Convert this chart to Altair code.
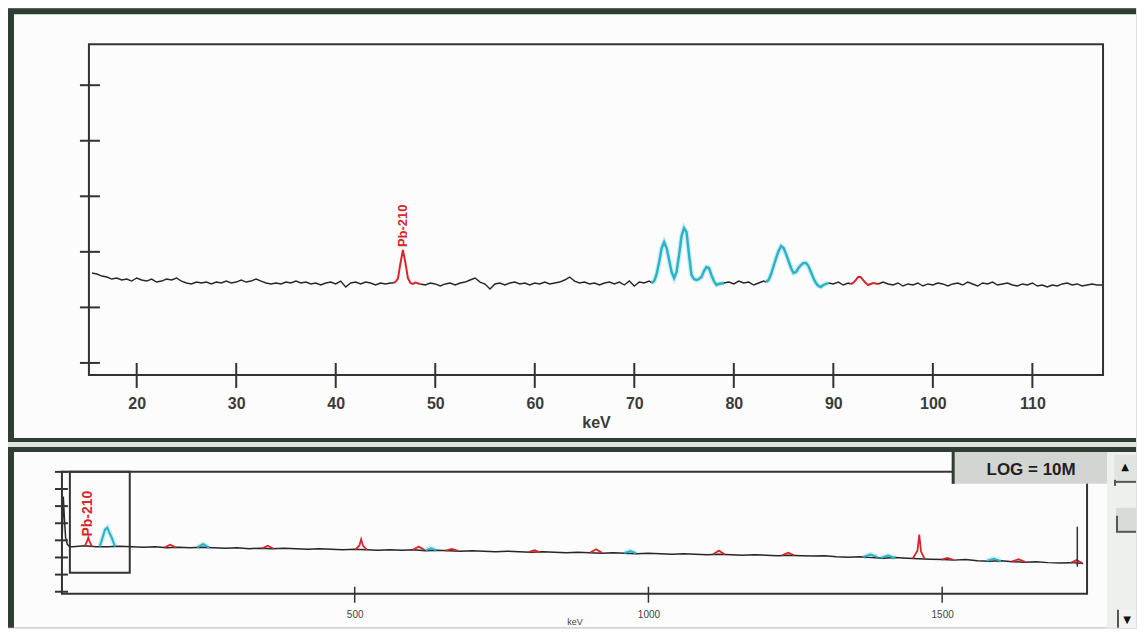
import altair as alt
import pandas as pd

# ---------------- colours ----------------
RED = "#d8262c"
CYAN = "#28b3c7"
BLACK = "#262626"
FRAME = "#333333"
BORDER = "#2f3d34"
PANEL = "#fbfcfb"
GAP = "#dfe4df"
FONT = "Liberation Sans"

# ================= TOP PANEL : 15 - 117 keV =================
top_kev_domain = [15.2, 117.1]
top_count_domain = [6.08, 5.46e6]
top_x_ticks = [20, 30, 40, 50, 60, 70, 80, 90, 100, 110]
top_y_ticks = [10, 100, 1000, 10000, 100000, 1000000]

# spectrum segments: kind bg = background, id = identified ROI, xr = X-ray ROI
top_seg_names = ["bg_a", "pb210", "bg_b", "xray1", "bg_c", "xray2", "bg_d", "roi92", "bg_e"]
top_seg_kind = ["bg", "id", "bg", "xr", "bg", "xr", "bg", "id", "bg"]
top_seg_start = [15.5, 45.75, 48.5, 71.75, 79.0, 83.25, 89.5, 91.75, 94.5]
top_seg_step = [0.5, 0.25, 0.5, 0.25, 0.5, 0.25, 0.5, 0.25, 0.5]

bg_a = [416, 399, 367, 352, 324, 338, 311, 324, 298, 338,
        311, 298, 324, 286, 298, 324, 311, 338, 298, 275,
        264, 286, 275, 286, 264, 286, 275, 298, 275, 286,
        311, 286, 298, 324, 298, 275, 264, 275, 264, 286,
        275, 298, 275, 286, 264, 275, 253, 275, 286, 264,
        298, 233, 275, 286, 264, 286, 275, 253, 275, 264,
        275]
pb210 = [275, 286, 330, 620, 1080, 640, 340, 275, 264, 280]
bg_b = [264, 253, 275, 264, 243, 264, 275, 253, 275, 286,
        311, 338, 286, 264, 214, 264, 275, 253, 275, 286,
        264, 275, 253, 275, 264, 286, 264, 275, 286, 311,
        352, 298, 275, 286, 264, 275, 253, 275, 286, 264,
        286, 253, 298, 243, 286, 275, 298]
xray1 = [275, 298, 399, 656, 1170, 1500, 1170, 713, 434, 338,
         434, 875, 1920, 2680, 2270, 875, 383, 324, 311, 324,
         352, 452, 533, 512, 383, 298, 253, 264]
bg_c = [275, 286, 264, 298, 275, 286, 253, 275, 298]
xray2 = [286, 311, 399, 556, 773, 1033, 1270, 1170, 912, 684,
         512, 416, 434, 512, 580, 630, 630, 556, 434, 338,
         275, 243, 233, 253]
bg_d = [275, 264, 286, 253, 275]
roi92 = [264, 275, 311, 352, 352, 311, 275, 253, 264, 275]
bg_e = [264, 286, 264, 253, 275, 243, 264, 253, 275, 243,
        264, 253, 275, 264, 243, 264, 275, 253, 286, 264,
        243, 275, 264, 286, 253, 264, 275, 253, 243, 264,
        253, 275, 243, 253, 233, 253, 243, 264, 275, 253,
        264, 243, 253, 264, 253, 253]
top_seg_values = [bg_a, pb210, bg_b, xray1, bg_c, xray2, bg_d, roi92, bg_e]

top_labels = ["Pb-210"]
top_label_kev = [46.8]
top_label_counts = [1220]

# ================= BOTTOM PANEL : full spectrum =================
bot_kev_domain = [1.7, 1746.6]
bot_count_domain = [0.76, 1e7]
bot_x_ticks = [500, 1000, 1500]
bot_y_ticks = [1, 10, 100, 1000, 10000, 100000, 1000000, 10000000]

bot_low_kev = [2, 4, 6, 8, 11, 15]
bot_low_counts = [1100, 360000, 16000, 1400, 560, 428]
bot_bg_start, bot_bg_step = 20, 20
bot_bg_counts = [428, 490, 428, 428, 458, 428, 400, 428, 374, 400,
                 374, 400, 374, 350, 374, 327, 350, 327, 350, 327,
                 306, 327, 306, 286, 306, 286, 267, 286, 267, 286,
                 250, 267, 250, 234, 250, 234, 218, 234, 218, 204,
                 218, 204, 191, 204, 191, 179, 191, 179, 167, 179,
                 167, 156, 167, 156, 146, 156, 146, 137, 146, 137,
                 128, 137, 128, 120, 128, 112, 104, 112, 98, 91,
                 98, 91, 85, 80, 75, 70, 75, 65, 61, 65,
                 57, 53, 57, 50, 47, 50, 44]

bot_roi_kind = ["id", "xr", "id", "xr", "id", "id", "id", "xr", "id", "id", "id",
                "xr", "id", "id", "xr", "xr", "id", "id", "xr", "id", "id"]
bot_roi_kev = [
    [40, 44, 46.5, 49, 53],
    [66, 71, 75, 79, 83, 87, 92],
    [176, 186, 196],
    [232, 242, 252],
    [342, 352, 362],
    [501, 508, 511, 514, 521],
    [599, 609, 619],
    [621, 630, 639],
    [655, 665, 675],
    [796, 806, 816],
    [901, 911, 921],
    [959, 969, 979],
    [1110, 1120, 1130],
    [1228, 1238, 1248],
    [1366, 1378, 1390],
    [1396, 1408, 1420],
    [1450, 1458, 1461, 1464, 1470],
    [1499, 1509, 1519],
    [1576, 1588, 1600],
    [1618, 1630, 1642],
    [1719, 1729, 1739],
]
bot_roi_counts = [
    [428, 800, 1440, 800, 428],
    [428, 1500, 4200, 5500, 2500, 1300, 428],
    [374, 560, 374],
    [390, 600, 380],
    [330, 480, 320],
    [290, 500, 1150, 500, 280],
    [280, 430, 270],
    [265, 340, 258],
    [255, 320, 250],
    [205, 270, 200],
    [192, 300, 186],
    [180, 240, 176],
    [156, 250, 150],
    [137, 190, 134],
    [108, 150, 104],
    [95, 130, 92],
    [87, 250, 2150, 220, 84],
    [75, 95, 72],
    [63, 85, 61],
    [57, 78, 54],
    [48, 70, 46],
]
bot_labels = ["Pb-210"]
bot_label_kev = [46.8]
bot_label_counts = [1660]
zoom_counts = [13, 1e7]
cursor_kev = [1730]
cursor_counts = [[29, 6300]]

# ---------------- build tables ----------------
rows = []
for i, name in enumerate(top_seg_names):
    vals = top_seg_values[i]
    pts = [(top_seg_start[i] + j * top_seg_step[i], v) for j, v in enumerate(vals)]
    if i + 1 < len(top_seg_names):
        pts.append((top_seg_start[i + 1], top_seg_values[i + 1][0]))
    for e, c in pts:
        rows.append({"keV": e, "counts": c, "seg": name, "kind": top_seg_kind[i]})
top_df = pd.DataFrame(rows)

brows = []
for e, c in zip(bot_low_kev, bot_low_counts):
    brows.append({"keV": e, "counts": c, "seg": "bg", "kind": "bg"})
for j, c in enumerate(bot_bg_counts):
    brows.append({"keV": bot_bg_start + j * bot_bg_step, "counts": c, "seg": "bg", "kind": "bg"})
for i, k in enumerate(bot_roi_kind):
    for e, c in zip(bot_roi_kev[i], bot_roi_counts[i]):
        brows.append({"keV": e, "counts": c, "seg": "roi%d" % i, "kind": k})
bot_df = pd.DataFrame(brows)

one = pd.DataFrame({"a": [0]})


def box(x, x2, y, y2, fill, **kw):
    return alt.Chart(one).mark_rect(fill=fill, **kw).encode(
        x=alt.value(x), x2=alt.value(x2), y=alt.value(y), y2=alt.value(y2))


def hline(x, x2, y, color=BORDER, w=2):
    return alt.Chart(one).mark_rule(color=color, strokeWidth=w).encode(
        x=alt.value(x), x2=alt.value(x2), y=alt.value(y))


def vline(x, y, y2, color=BORDER, w=2):
    return alt.Chart(one).mark_rule(color=color, strokeWidth=w).encode(
        x=alt.value(x), y=alt.value(y), y2=alt.value(y2))


def spectrum_layers(df, xe, ye, wbg, wid, wxr):
    glow = alt.Chart(df).transform_filter(alt.datum.kind == "xr").mark_line(
        color=CYAN, strokeWidth=5, opacity=0.22).encode(x=xe, y=ye, detail="seg:N")
    bg = alt.Chart(df).transform_filter(alt.datum.kind == "bg").mark_line(
        color=BLACK, strokeWidth=wbg).encode(x=xe, y=ye, detail="seg:N")
    idl = alt.Chart(df).transform_filter(alt.datum.kind == "id").mark_line(
        color=RED, strokeWidth=wid).encode(x=xe, y=ye, detail="seg:N")
    xr = alt.Chart(df).transform_filter(alt.datum.kind == "xr").mark_line(
        color=CYAN, strokeWidth=wxr).encode(x=xe, y=ye, detail="seg:N")
    return [glow, bg, idl, xr]


# ---------------- top chart ----------------
# group origin shared with the bottom panel; the top plot box starts 27 px further right
L1 = 27
W1, H1 = 1042, 331
ax_top = alt.Axis(values=top_x_ticks, format="d", labelFont=FONT, labelFontSize=16,
                  labelFontWeight="bold", labelColor="#3a3a3a", labelPadding=34,
                  labelBaseline="alphabetic", ticks=False, tickSize=0, domain=False,
                  grid=False, title="keV", titleFont=FONT, titleFontSize=16,
                  titleFontWeight="bold", titleColor="#3a3a3a", titleY=53,
                  titleX=(L1 + W1) / 2, titleBaseline="alphabetic", zindex=1,
                  labelOverlap=False)
xt = alt.X("keV:Q", scale=alt.Scale(domain=top_kev_domain, range=[L1, W1], nice=False, zero=False),
           axis=ax_top)
yt = alt.Y("counts:Q", scale=alt.Scale(type="log", domain=top_count_domain, nice=False), axis=None)

top_label = alt.Chart(pd.DataFrame({"keV": top_label_kev, "counts": top_label_counts,
                                    "t": top_labels})).mark_text(
    angle=270, align="left", baseline="middle", font=FONT, fontSize=13,
    fontWeight="bold", color=RED).encode(x=xt, y=yt, text="t:N")

top_xtick = alt.Chart(pd.DataFrame({"keV": top_x_ticks})).mark_rule(
    color=FRAME, strokeWidth=2).encode(x=xt, y=alt.value(H1 - 12), y2=alt.value(H1 + 13))
top_ytick = alt.Chart(pd.DataFrame({"counts": top_y_ticks})).mark_rule(
    color=FRAME, strokeWidth=2).encode(y=yt, x=alt.value(L1 - 9), x2=alt.value(L1 + 11))
top_frame = box(L1, W1, 0, H1, "transparent", stroke=FRAME, strokeWidth=2)

top = alt.layer(
    box(-54, 1075, -36, 398, BORDER),
    box(-48, 1075, -30, 394, PANEL),
    *spectrum_layers(top_df, xt, yt, 1.4, 2.0, 2.4),
    top_label, top_frame, top_xtick, top_ytick,
).properties(width=W1, height=H1)

# ---------------- bottom chart ----------------
W2, H2 = 1026, 122
ax_bot = alt.Axis(values=bot_x_ticks, format="d", labelFont=FONT, labelFontSize=10,
                  labelColor="#444444", labelPadding=24, labelBaseline="alphabetic",
                  ticks=False, tickSize=0, domain=False, grid=False, title="keV",
                  titleFont=FONT, titleFontSize=9, titleFontWeight="normal",
                  titleColor="#444444", titleY=31, titleBaseline="alphabetic",
                  zindex=1, labelOverlap=False)
xb = alt.X("keV:Q", scale=alt.Scale(domain=bot_kev_domain, nice=False, zero=False), axis=ax_bot)
yb = alt.Y("counts:Q", scale=alt.Scale(type="log", domain=bot_count_domain, nice=False), axis=None)

bot_label = alt.Chart(pd.DataFrame({"keV": bot_label_kev, "counts": bot_label_counts,
                                    "t": bot_labels})).mark_text(
    angle=270, align="left", baseline="middle", font=FONT, fontSize=14,
    fontWeight="bold", color=RED).encode(x=xb, y=yb, text="t:N")

zoom_box = alt.Chart(pd.DataFrame({"keV": [top_kev_domain[0]], "keV2": [top_kev_domain[1]],
                                   "counts": [zoom_counts[0]], "counts2": [zoom_counts[1]]})).mark_rect(
    fill="transparent", stroke=FRAME, strokeWidth=2).encode(
    x=xb, x2="keV2:Q", y=yb, y2="counts2:Q")

cursor = alt.Chart(pd.DataFrame({"keV": cursor_kev, "counts": [cursor_counts[0][0]],
                                 "counts2": [cursor_counts[0][1]]})).mark_rule(
    color=FRAME, strokeWidth=1.5).encode(x=xb, y=yb, y2="counts2:Q")

bot_xtick = alt.Chart(pd.DataFrame({"keV": bot_x_ticks})).mark_rule(
    color=FRAME, strokeWidth=1.5).encode(x=xb, y=alt.value(H2 - 7), y2=alt.value(H2 + 9))
bot_ytick = alt.Chart(pd.DataFrame({"counts": bot_y_ticks})).mark_rule(
    color=FRAME, strokeWidth=2).encode(y=yb, x=alt.value(-7), x2=alt.value(6))
bot_frame = box(0, W2, 0, H2, "transparent", stroke=FRAME, strokeWidth=2)

log_text = alt.Chart(one).mark_text(text="LOG = 10M", font=FONT, fontSize=17,
                                    fontWeight="bold", color="#222222").encode(
    x=alt.value(970), y=alt.value(-2))
arrow_up = alt.Chart(one).mark_text(text="\u25b2", font="DejaVu Sans", fontSize=10,
                                    color="#111111").encode(x=alt.value(1064), y=alt.value(-5))
arrow_dn = alt.Chart(one).mark_text(text="\u25bc", font="DejaVu Sans", fontSize=10,
                                    color="#111111").encode(x=alt.value(1066), y=alt.value(148))

bot = alt.layer(
    box(-54, 1075, -25, 156, BORDER),
    box(-48, 1075, -20, 156, PANEL),
    box(1046, 1075, -20, 156, "#eef0ee"),
    *spectrum_layers(bot_df, xb, yb, 1.5, 1.8, 2.0),
    bot_label, zoom_box, cursor, bot_frame, bot_xtick, bot_ytick,
    box(891, 1046, -20, 12, "#d3d5d3"),
    vline(892, -20, 12, BORDER, 3),
    log_text,
    box(1053, 1075, -17, 10, "#e2e4e2"),
    hline(1053, 1075, 10, "#555555", 2),
    vline(1054, 8, 14, "#555555", 2),
    box(1055, 1075, 36, 60, "#d9dbd9"),
    hline(1055, 1075, 60, "#555555", 2),
    vline(1056, 44, 60, "#555555", 2),
    box(1056, 1075, 138, 156, "#f3f3f3"),
    vline(1057, 138, 156, "#555555", 2),
    arrow_up, arrow_dn,
).properties(width=W2, height=H2)

chart = alt.vconcat(top, bot, spacing=5).properties(
    padding=0, background=GAP).configure_view(strokeWidth=0)

chart.save("out.html", embed_options={"renderer": "svg", "actions": False})
